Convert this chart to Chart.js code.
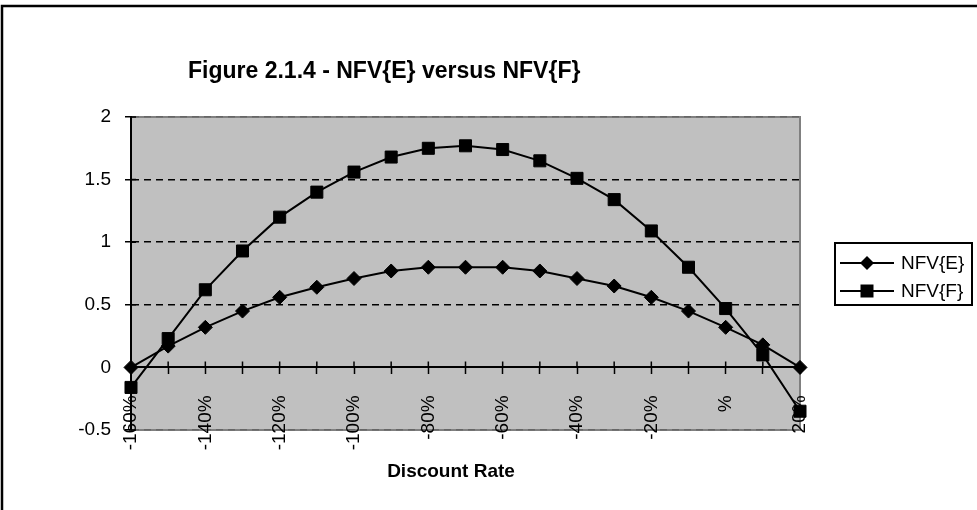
<!DOCTYPE html>
<html><head><meta charset="utf-8">
<script src="https://cdn.jsdelivr.net/npm/chart.js@4.4.1/dist/chart.umd.min.js"></script>
<style>html,body{margin:0;padding:0;background:#fff;overflow:hidden}</style>
</head><body>
<canvas id="c" width="977" height="510"></canvas>
<script>
const categories = ['-160%','-150%','-140%','-130%','-120%','-110%','-100%','-90%','-80%','-70%','-60%','-50%','-40%','-30%','-20%','-10%','0%','10%','20%'];
const tickLabels = ['-160%','-140%','-120%','-100%','-80%','-60%','-40%','-20%','%','20%'];
const nfvE = [0, 0.17, 0.32, 0.45, 0.56, 0.64, 0.71, 0.77, 0.80, 0.80, 0.80, 0.77, 0.71, 0.65, 0.56, 0.45, 0.32, 0.18, 0];
const nfvF = [-0.16, 0.23, 0.62, 0.93, 1.20, 1.40, 1.56, 1.68, 1.75, 1.77, 1.74, 1.65, 1.51, 1.34, 1.09, 0.80, 0.47, 0.10, -0.35];
const seriesNames = ['NFV{E}', 'NFV{F}'];
const yTicks = [-0.5, 0, 0.5, 1, 1.5, 2];
const chartTitle = 'Figure 2.1.4 - NFV{E} versus NFV{F}';
const xAxisTitle = 'Discount Rate';

const FONT = "'Liberation Sans', Arial, sans-serif";

function drawMarker(ctx, style, x, y) {
  ctx.save();
  ctx.fillStyle = '#000';
  ctx.beginPath();
  if (style === 'rectRot') {
    const r = 7;
    ctx.moveTo(x - r, y); ctx.lineTo(x, y - r); ctx.lineTo(x + r, y); ctx.lineTo(x, y + r);
  } else {
    const h = 6.5;
    ctx.rect(x - h, y - h, 2 * h, 2 * h);
  }
  ctx.closePath();
  ctx.fill();
  ctx.restore();
}

const decor = {
  id: 'decor',
  beforeDraw(chart) {
    const {ctx, chartArea: a} = chart;
    ctx.save();
    ctx.fillStyle = '#fff';
    ctx.fillRect(0, 0, chart.width, chart.height);
    ctx.fillStyle = '#c0c0c0';
    ctx.fillRect(a.left, a.top, a.right - a.left, a.bottom - a.top);
    ctx.strokeStyle = '#808080';
    ctx.lineWidth = 2;
    ctx.strokeRect(a.left, a.top, a.right - a.left, a.bottom - a.top);
    // outer frame
    ctx.strokeStyle = '#000';
    ctx.lineWidth = 2.5;
    ctx.beginPath();
    ctx.moveTo(2, chart.height); ctx.lineTo(2, 6); ctx.lineTo(chart.width, 6);
    ctx.stroke();
    ctx.restore();
  },
  beforeDatasetsDraw(chart) {
    const {ctx, chartArea: a, scales} = chart;
    const x = scales.x, y = scales.y;
    const y0 = y.getPixelForValue(0);
    ctx.save();
    ctx.strokeStyle = '#000';
    ctx.lineWidth = 1.5;
    ctx.setLineDash([]);
    ctx.beginPath();
    for (let i = 0; i < categories.length; i++) {
      const px = x.getPixelForValue(i);
      ctx.moveTo(px, y0 - 6); ctx.lineTo(px, y0);
    }
    yTicks.forEach(v => {
      const py = y.getPixelForValue(v);
      ctx.moveTo(a.left, py); ctx.lineTo(a.left + 5, py);
    });
    ctx.stroke();
    ctx.restore();
  },
  afterDraw(chart) {
    const {ctx} = chart;
    ctx.save();
    ctx.setLineDash([]);
    ctx.fillStyle = '#000';
    ctx.textBaseline = 'alphabetic';
    ctx.font = 'bold 23px ' + FONT;
    ctx.textAlign = 'left';
    ctx.fillText(chartTitle, 188, 78);
    ctx.font = 'bold 19px ' + FONT;
    ctx.textAlign = 'center';
    ctx.fillText(xAxisTitle, 451, 477);
    // legend
    ctx.strokeStyle = '#000';
    ctx.lineWidth = 2;
    ctx.strokeRect(835, 243, 137, 62);
    ctx.font = '19px ' + FONT;
    ctx.textAlign = 'left';
    ctx.textBaseline = 'middle';
    chart.data.datasets.forEach((ds, i) => {
      const ly = 263 + i * 28;
      ctx.strokeStyle = ds.borderColor;
      ctx.lineWidth = ds.borderWidth;
      ctx.beginPath(); ctx.moveTo(840, ly); ctx.lineTo(894, ly); ctx.stroke();
      drawMarker(ctx, ds.pointStyle, 867, ly);
      ctx.fillStyle = '#000';
      ctx.fillText(ds.label, 901, ly + 1);
    });
    ctx.restore();
  }
};

new Chart(document.getElementById('c'), {
  type: 'line',
  data: {
    labels: categories,
    datasets: [
      { label: seriesNames[0], data: nfvE, borderColor: '#000', backgroundColor: '#000', borderWidth: 2,
        pointStyle: 'rectRot', pointRadius: 7, pointBorderWidth: 1, pointBackgroundColor: '#000', pointBorderColor: '#000', tension: 0 },
      { label: seriesNames[1], data: nfvF, borderColor: '#000', backgroundColor: '#000', borderWidth: 2,
        pointStyle: 'rect', pointRadius: 8.5, pointBorderWidth: 1, pointBackgroundColor: '#000', pointBorderColor: '#000', tension: 0 }
    ]
  },
  options: {
    responsive: false,
    animation: false,
    devicePixelRatio: 1,
    layout: { padding: { left: 0, top: 117, right: 177, bottom: 80 } },
    plugins: { legend: { display: false }, title: { display: false }, tooltip: { enabled: false } },
    scales: {
      x: {
        type: 'category',
        position: { y: 0 },
        offset: false,
        grid: { drawOnChartArea: false, drawTicks: true, tickLength: 6, tickColor: '#000', tickWidth: 1.5, color: '#000' },
        border: { display: true, color: '#000', width: 2 },
        ticks: {
          autoSkip: false, maxRotation: 90, minRotation: 90, padding: 22,
          color: '#000', font: { family: FONT, size: 19 },
          callback: (v, i) => (i % 2 === 0 ? tickLabels[i / 2] : '')
        }
      },
      y: {
        min: -0.5, max: 2,
        afterFit: s => { s.width = 131; },
        afterBuildTicks: s => { s.ticks = yTicks.map(v => ({ value: v })); },
        grid: {
          color: c => (c.tick && c.tick.value === 0) ? 'rgba(0,0,0,0)' : ((c.tick && (c.tick.value === 2 || c.tick.value === -0.5)) ? '#666' : '#000'),
          lineWidth: 1.5, tickColor: '#000', tickLength: 6, tickWidth: 1.5, tickBorderDash: []
        },
        border: { display: true, color: '#000', width: 2, dash: [7, 5] },
        ticks: { color: '#000', font: { family: FONT, size: 19 }, padding: 14, callback: v => String(v) }
      }
    }
  },
  plugins: [decor]
});
</script>
</body></html>
